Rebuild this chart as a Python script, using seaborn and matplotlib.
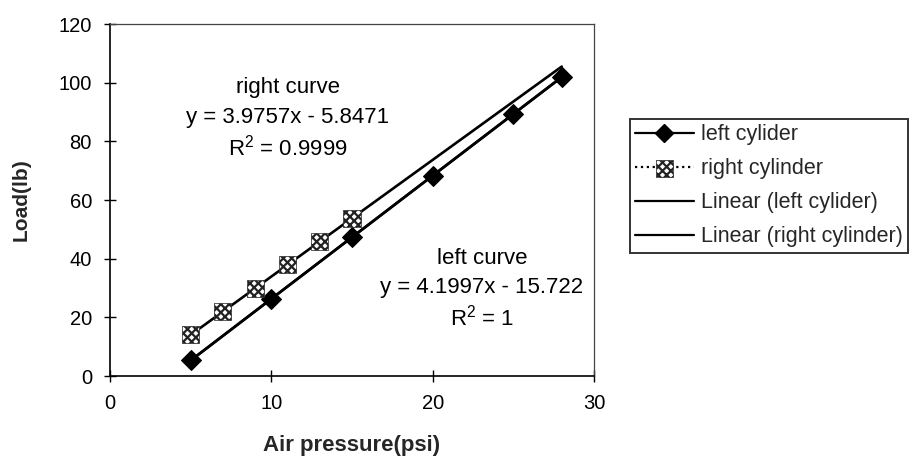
import numpy as np
import pandas as pd
import matplotlib
matplotlib.use("Agg")
import matplotlib.pyplot as plt
import seaborn as sns
from matplotlib.lines import Line2D
from matplotlib.legend_handler import HandlerTuple

# ---- data ----
left_x = [5, 10, 15, 20, 25, 28]
left_y = [5.3, 26.3, 47.3, 68.3, 89.3, 101.9]
right_x = [5, 7, 9, 11, 13, 15]
right_y = [14.0, 22.0, 29.9, 37.9, 45.8, 53.8]
trend_x = [5, 28]
right_label_lines = ["right curve", "y = 3.9757x - 5.8471", "R$^2$ = 0.9999"]
left_label_lines = ["left curve", "y = 4.1997x - 15.722", "R$^2$ = 1"]
x_ticks = [0, 10, 20, 30]
y_ticks = [0, 20, 40, 60, 80, 100, 120]

sns.set_theme(style="white")
plt.rcParams["font.family"] = ["Liberation Sans", "DejaVu Sans"]
plt.rcParams["mathtext.fontset"] = "custom"
plt.rcParams["mathtext.rm"] = "Liberation Sans"
plt.rcParams["hatch.linewidth"] = 1.6

W, H = 913, 459
fig = plt.figure(figsize=(W / 100, H / 100), dpi=100)
ax = fig.add_axes([110 / W, 1 - 376 / H, (594 - 110) / W, (376 - 24) / H])

# trend lines (least-squares fits of the data)
pl = np.polyfit(left_x, left_y, 1)
pr = np.polyfit(right_x, right_y, 1)
tx = np.array(trend_x, dtype=float)
trend = pd.DataFrame({
    "x": np.concatenate([tx, tx]),
    "y": np.concatenate([np.polyval(pl, tx), np.polyval(pr, tx)]),
    "s": ["Linear (left cylider)"] * 2 + ["Linear (right cylinder)"] * 2,
})
sns.lineplot(data=trend, x="x", y="y", units="s", estimator=None, color="black",
             lw=1.9, ax=ax, legend=False)

dl = pd.DataFrame({"x": left_x, "y": left_y})
sns.lineplot(data=dl, x="x", y="y", color="black", lw=1.9, ax=ax, legend=False,
             marker="D", markersize=10, markeredgecolor="black",
             markerfacecolor="black")
sc = ax.scatter(right_x, right_y, marker="s", s=150, facecolor="white",
                edgecolor="#222222", hatch="xxxx", linewidths=0.5, zorder=5)

ax.set_xlim(0, 30)
ax.set_ylim(0, 120)
ax.set_xticks(x_ticks)
ax.set_yticks(y_ticks)
ax.tick_params(axis="both", bottom=True, left=True, direction="inout", length=8,
               width=1, color="black", labelsize=14.5, labelcolor="black")
ax.tick_params(axis="x", pad=9)
ax.tick_params(axis="y", pad=9)
for s in ["left", "bottom"]:
    ax.spines[s].set_color("black")
    ax.spines[s].set_linewidth(1.2)
for s in ["top", "right"]:
    ax.spines[s].set_color("#444444")
    ax.spines[s].set_linewidth(0.9)

ax.set_xlabel("Air pressure(psi)", fontsize=16, fontweight="bold", labelpad=16)
ax.set_ylabel("Load(lb)", fontsize=15, fontweight="bold", labelpad=20)

def px2data(px, py):
    return ((px - 110) / (594 - 110) * 30, (376 - py) / (376 - 24) * 120)

for i, t in enumerate(right_label_lines):
    x, y = px2data(288, 88 + 30 * i)
    ax.text(x, y, t, ha="center", va="center", fontsize=16, color="black")
for i, t in enumerate(left_label_lines):
    x, y = px2data(482, 258 + 30 * i)
    ax.text(x, y, t, ha="center", va="center", fontsize=16, color="black")

# legend
h1 = Line2D([], [], color="black", lw=1.6, marker="D", markersize=9,
            markerfacecolor="black", markeredgecolor="black")
h2l = Line2D([], [], color="black", lw=1.6, ls=":")
h3 = Line2D([], [], color="black", lw=1.6)
h4 = Line2D([], [], color="black", lw=1.6)
leg = fig.legend([h1, (h2l, sc), h3, h4],
                 ["left cylider", "right cylinder", "Linear (left cylider)",
                  "Linear (right cylinder)"],
                 handler_map={tuple: HandlerTuple(ndivide=1)},
                 loc="upper left", bbox_to_anchor=(630 / W, 1 - 119 / H),
                 frameon=True, fancybox=False, fontsize=15.5, handlelength=2.7,
                 handletextpad=0.35, labelspacing=0.6, borderpad=0.25,
                 borderaxespad=0)
leg.get_frame().set_edgecolor("black")
leg.get_frame().set_linewidth(1.4)

fig.savefig("out.png", dpi=100, facecolor="white")
